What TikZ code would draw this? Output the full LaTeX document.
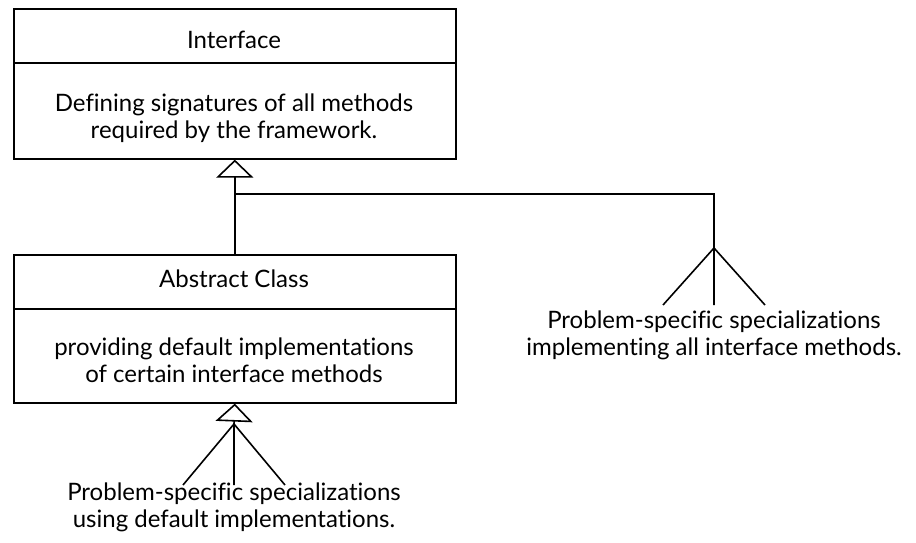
\documentclass[tikz,border=0pt]{standalone}
\usepackage{fontspec}
\setmainfont{Lato}[Ligatures={NoCommon,NoRare}]
\usetikzlibrary{arrows.meta}
\begin{document}
\begin{tikzpicture}[x=1pt,y=-1pt,
  txt/.style={font=\fontsize{24}{27}\selectfont, align=center, inner sep=0pt, anchor=base},
  comp/.style={draw, line width=1.6pt, minimum width=442pt, inner sep=0pt, anchor=north west},
  conn/.style={line width=1.6pt},
  gen/.style={line width=1.6pt, -{Triangle[open, length=18pt, width=37pt, line width=1.6pt]}}
]
\useasboundingbox (0,0) rectangle (916,543);
% Interface box
\node[comp, minimum height=54pt] (ifh) at (13,8) {};
\node[comp, minimum height=96pt] (ifb) at (13,62) {};
\node[txt] (ift) at (234,49) {Interface};
\node[txt] (ifd) at (234,138) {Defining signatures of all methods\\required by the framework.};
% Abstract class box
\node[comp, minimum height=54pt] (ach) at (13,254) {};
\node[comp, minimum height=94pt] (acb) at (13,308) {};
\node[txt] (act) at (234,287) {Abstract Class};
\node[txt] (acd) at (234,382) {providing default implementations\\of certain interface methods};
% connectors to interface
\coordinate (junc) at (234,194);
\coordinate (fanR) at (714,248);
\draw[gen] (ach.north) -- (ifb.south);
\draw[conn] (fanR) -- (714,194) -- (junc);
% right fan
\coordinate (r1) at (663,305);
\coordinate (r2) at (714,305);
\coordinate (r3) at (765,305);
\draw[conn] (r1) -- (fanR) -- (r3) (fanR) -- (r2);
\node[txt] (rtxt) at (714,355) {Problem-specific specializations\\implementing all interface methods.};
% bottom fan
\coordinate (fanB) at (234,424);
\coordinate (b1) at (183,485);
\coordinate (b2) at (234,485);
\coordinate (b3) at (285,485);
\draw[gen] (fanB) -- (acb.south);
\draw[conn] (b1) -- (fanB) -- (b3) (fanB) -- (b2);
\node[txt] (btxt) at (234,527) {Problem-specific specializations\\using default implementations.};
\end{tikzpicture}
\end{document}
